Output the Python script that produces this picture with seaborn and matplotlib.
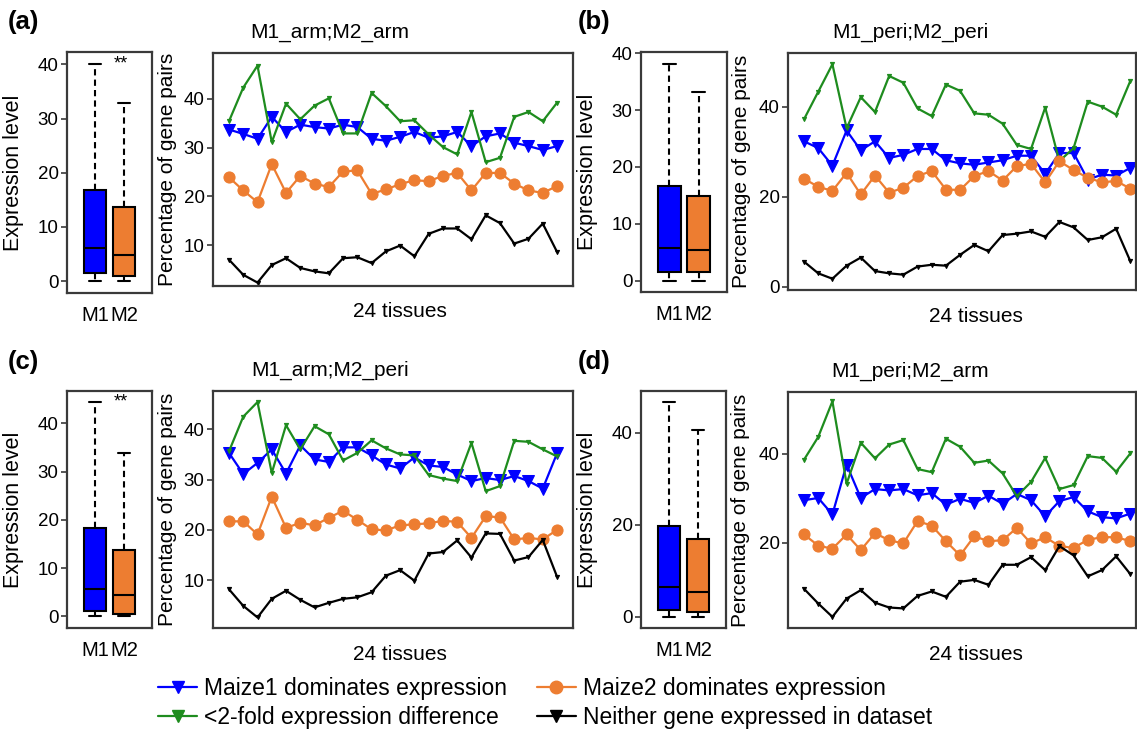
import matplotlib
matplotlib.use("Agg")
import matplotlib.pyplot as plt
from matplotlib.lines import Line2D
import seaborn as sns
import pandas as pd

# box plot stats: whislo, q1, median, q3, whishi
box_a = {"M1": [0, 1.5, 6.2, 16.9, 40.0], "M2": [0, 1.0, 4.9, 13.7, 32.8]}
box_b = {"M1": [0, 1.6, 5.7, 16.6, 38.1], "M2": [0, 1.6, 5.3, 14.8, 33.1]}
box_c = {"M1": [0, 1.2, 5.7, 18.4, 44.4], "M2": [0, 0.6, 4.5, 13.8, 33.8]}
box_d = {"M1": [0, 1.45, 6.5, 19.6, 46.7], "M2": [0, 0.9, 5.4, 16.8, 40.6]}

# percentage of gene pairs across 24 tissues
maize1_a = [33.7, 32.8, 31.8, 36.3, 33.2, 34.7, 34.2, 33.9, 34.7, 34.2, 31.8, 31.4,
            32.2, 33.2, 32.0, 32.3, 33.2, 30.3, 32.3, 32.9, 31.0, 30.3, 29.5, 30.3]
fold2_a = [35.4, 42.3, 46.8, 31.1, 39.0, 35.8, 38.6, 40.1, 32.9, 32.9, 41.2, 38.5,
           35.4, 35.6, 32.7, 30.1, 28.6, 37.3, 27.0, 27.9, 36.3, 37.3, 35.4, 39.2]
maize2_a = [23.9, 21.2, 18.8, 26.6, 20.7, 24.2, 22.6, 21.9, 25.1, 25.3, 20.5, 21.4,
            22.5, 23.3, 23.1, 24.2, 24.8, 21.2, 24.8, 24.8, 22.6, 21.2, 20.7, 22.1]
neither_a = [7.0, 3.9, 2.3, 5.9, 7.3, 5.3, 4.6, 4.2, 7.3, 7.5, 6.3, 8.7,
             9.9, 7.7, 12.3, 13.4, 13.4, 11.2, 16.1, 14.5, 10.3, 11.3, 14.4, 8.6]

maize1_b = [32.3, 30.8, 26.9, 34.7, 30.3, 32.3, 28.6, 29.3, 30.6, 30.6, 28.1, 27.4,
            27.1, 27.6, 28.1, 29.1, 29.1, 25.1, 29.7, 29.7, 23.8, 24.9, 24.7, 26.4]
fold2_b = [37.2, 43.3, 49.4, 35.2, 42.1, 38.8, 46.8, 45.3, 39.6, 37.9, 44.9, 43.5,
           38.5, 38.2, 36.2, 31.5, 30.6, 39.8, 27.9, 30.8, 41.1, 40.0, 38.2, 45.7]
maize2_b = [24.0, 22.2, 21.3, 25.3, 20.5, 24.7, 20.9, 22.0, 24.6, 25.7, 21.6, 21.5,
            24.6, 25.7, 23.6, 26.8, 27.3, 23.2, 27.9, 25.9, 24.2, 23.2, 23.5, 21.8]
neither_b = [5.6, 3.0, 1.8, 4.7, 6.5, 3.5, 3.0, 2.7, 4.5, 4.9, 4.7, 7.1,
             9.3, 7.9, 11.5, 11.8, 12.3, 11.1, 14.4, 13.2, 10.4, 11.0, 12.9, 5.7]

maize1_c = [35.3, 31.1, 33.3, 36.0, 31.2, 36.8, 34.0, 33.5, 36.4, 36.4, 34.8, 33.0,
            32.2, 34.4, 32.8, 32.5, 31.0, 29.7, 30.3, 29.9, 30.7, 29.7, 28.2, 35.2]
fold2_c = [35.6, 42.5, 45.4, 31.3, 40.8, 36.0, 40.6, 39.0, 33.8, 35.3, 37.8, 36.2,
           35.0, 34.8, 30.9, 30.2, 29.7, 37.3, 27.7, 28.7, 37.7, 37.5, 36.0, 34.6]
maize2_c = [21.7, 21.7, 19.1, 26.6, 20.4, 21.4, 20.9, 22.4, 23.8, 22.0, 20.1, 19.9,
            20.9, 21.1, 21.3, 21.8, 21.6, 18.4, 22.7, 22.5, 18.1, 18.4, 18.1, 20.0]
neither_c = [8.2, 4.9, 2.6, 6.3, 7.9, 6.1, 4.6, 5.5, 6.3, 6.6, 7.6, 10.9,
             12.0, 9.9, 15.3, 15.6, 17.9, 14.5, 19.3, 19.2, 13.9, 14.6, 18.0, 10.7]

maize1_d = [29.6, 30.1, 26.4, 37.6, 30.1, 32.1, 31.8, 32.1, 30.7, 31.2, 28.6, 29.9,
            29.0, 30.6, 28.8, 31.0, 29.6, 26.0, 29.4, 30.3, 27.1, 25.8, 25.5, 26.6]
fold2_d = [38.7, 43.8, 51.8, 33.3, 42.5, 39.0, 42.1, 43.1, 36.6, 35.9, 43.4, 41.6,
           38.0, 38.5, 35.6, 30.5, 33.7, 39.1, 32.1, 33.0, 39.5, 39.1, 36.0, 40.1]
maize2_d = [21.9, 19.4, 18.7, 21.9, 18.4, 22.2, 20.6, 19.9, 24.9, 23.9, 20.4, 17.2,
            21.5, 20.4, 20.6, 23.4, 19.9, 21.3, 19.3, 18.9, 20.7, 21.3, 21.3, 20.4]
neither_d = [9.7, 6.4, 3.4, 7.5, 9.4, 6.6, 5.5, 5.3, 8.1, 9.1, 7.9, 11.3,
             11.7, 10.6, 15.1, 15.1, 16.8, 13.9, 19.3, 17.2, 12.5, 13.9, 17.0, 13.0]

titles = ["M1_arm;M2_arm", "M1_peri;M2_peri", "M1_arm;M2_peri", "M1_peri;M2_arm"]
panel_tags = ["(a)", "(b)", "(c)", "(d)"]
series_names = ["Maize1 dominates expression", "<2-fold expression difference",
                "Maize2 dominates expression", "Neither gene expressed in dataset"]

BLUE = "#0000FF"
ORANGE = "#ED7D31"
GREEN = "#1E8C1E"
FRAME = "#3a3a3a"

sns.set_style("white")
plt.rcParams["font.family"] = ["Liberation Sans", "DejaVu Sans"]
plt.rcParams["text.color"] = "black"
plt.rcParams["axes.labelcolor"] = "black"
plt.rcParams["xtick.color"] = "black"
plt.rcParams["ytick.color"] = "black"

W, H = 1137, 729
fig = plt.figure(figsize=(W / 100, H / 100), dpi=100)


def add_ax(left, top, right, bottom):
    return fig.add_axes([left / W, 1 - bottom / H, (right - left) / W, (bottom - top) / H])


def style_frame(ax):
    for s in ax.spines.values():
        s.set_visible(True)
        s.set_color(FRAME)
        s.set_linewidth(1.6)
    ax.tick_params(axis="y", left=True, length=4, width=1.2, color=FRAME,
                   labelsize=13.5, pad=2)
    ax.tick_params(axis="x", bottom=False, labelsize=14.5)


panels = [
    dict(box=box_a, lines=[maize1_a, fold2_a, maize2_a, neither_a],
         bpos=(67, 52, 152, 293), lpos=(213, 53, 573, 286),
         bylim=(-2.2, 42.3), byt=[0, 10, 20, 30, 40], lylim=(1.6, 49.4),
         lyt=[10, 20, 30, 40], xlim=(-1.12, 24.12), star=True,
         tag=(8, 22), bylab=-0.5, lylab=-0.1, tx=0.325, xl=0.52),
    dict(box=box_b, lines=[maize1_b, fold2_b, maize2_b, neither_b],
         bpos=(641, 52, 727, 292), lpos=(788, 53, 1136, 290),
         bylim=(-2.0, 40.2), byt=[0, 10, 20, 30, 40], lylim=(-0.7, 51.9),
         lyt=[0, 20, 40], xlim=(-1.13, 23.4), star=False,
         tag=(578, 22), bylab=-0.5, lylab=-0.105, tx=0.352, xl=0.54),
    dict(box=box_c, lines=[maize1_c, fold2_c, maize2_c, neither_c],
         bpos=(67, 391, 152, 628), lpos=(213, 391, 573, 628),
         bylim=(-2.4, 46.7), byt=[0, 10, 20, 30, 40], lylim=(0.5, 47.6),
         lyt=[10, 20, 30, 40], xlim=(-1.12, 24.12), star=True,
         tag=(8, 362), bylab=-0.5, lylab=-0.1, tx=0.325, xl=0.52),
    dict(box=box_d, lines=[maize1_d, fold2_d, maize2_d, neither_d],
         bpos=(641, 391, 726, 628), lpos=(788, 392, 1136, 628),
         bylim=(-2.5, 49.1), byt=[0, 20, 40], lylim=(0.9, 53.9),
         lyt=[20, 40], xlim=(-1.13, 23.4), star=False,
         tag=(578, 362), bylab=-0.5, lylab=-0.11, tx=0.352, xl=0.54),
]

line_styles = [
    dict(color=BLUE, marker="v", markersize=8),
    dict(color=GREEN, marker="v", markersize=3),
    dict(color=ORANGE, marker="o", markersize=8),
    dict(color="black", marker="v", markersize=3),
]

for i, p in enumerate(panels):
    # box plot of expression level
    bax = add_ax(*p["bpos"])
    stats = []
    for name, vals in p["box"].items():
        stats.append(dict(label=name, whislo=vals[0], q1=vals[1], med=vals[2],
                          q3=vals[3], whishi=vals[4]))
    bp = bax.bxp(stats, positions=[1, 2], widths=0.78, capwidths=0.42,
                 patch_artist=True, showfliers=False,
                 whiskerprops=dict(linestyle=(0, (3, 2)), linewidth=1.5, color="black"),
                 capprops=dict(linewidth=1.5, color="black"),
                 medianprops=dict(linewidth=1.5, color="black"),
                 boxprops=dict(linewidth=1.5, edgecolor="black"))
    for patch, c in zip(bp["boxes"], [BLUE, ORANGE]):
        patch.set_facecolor(c)
    bax.set_xlim(0.03, 2.97)
    bax.set_ylim(*p["bylim"])
    bax.set_yticks(p["byt"])
    bax.set_xticks([1, 2])
    bax.set_xticklabels(list(p["box"].keys()))
    style_frame(bax)
    bax.tick_params(axis="x", pad=6)
    bax.set_ylabel("Expression level", fontsize=15.5)
    bax.yaxis.set_label_coords(p["bylab"], 0.5)
    if p["star"]:
        bax.text(1.66, p["box"]["M1"][4], "**", fontsize=13, va="center", ha="left")

    # line plot of gene-pair percentages
    lax = add_ax(*p["lpos"])
    for vals, st in zip(p["lines"], line_styles):
        df = pd.DataFrame({"tissue": range(len(vals)), "pct": vals})
        sns.lineplot(data=df, x="tissue", y="pct", ax=lax, color=st["color"],
                     marker=st["marker"], markersize=st["markersize"],
                     markeredgecolor=st["color"], linewidth=1.6)
    lax.set_xlim(*p["xlim"])
    lax.set_ylim(*p["lylim"])
    lax.set_yticks(p["lyt"])
    lax.set_xticks([])
    style_frame(lax)
    lax.set_ylabel("Percentage of gene pairs", fontsize=15)
    lax.yaxis.set_label_coords(p["lylab"], 0.5)
    lax.set_xlabel("24 tissues", fontsize=15)
    lax.xaxis.set_label_coords(p["xl"], -0.07)
    lax.set_title(titles[i], fontsize=15, x=p["tx"], pad=11)

    fig.text(p["tag"][0] / W, 1 - p["tag"][1] / H, panel_tags[i], fontsize=18.5,
             fontweight="bold", va="center", ha="left")

handles = [
    Line2D([], [], color=BLUE, marker="v", markersize=9, linewidth=1.6),
    Line2D([], [], color=GREEN, marker="v", markersize=9, linewidth=1.6),
    Line2D([], [], color=ORANGE, marker="o", markersize=9, linewidth=1.6),
    Line2D([], [], color="black", marker="v", markersize=9, linewidth=1.6),
]
fig.legend(handles, series_names, ncol=2, loc="center",
           bbox_to_anchor=(545 / W, 1 - 703 / H), frameon=False, fontsize=16.5,
           handlelength=1.7, columnspacing=1.3, labelspacing=0.3, handletextpad=0.3)

fig.savefig("out.png", dpi=100)
